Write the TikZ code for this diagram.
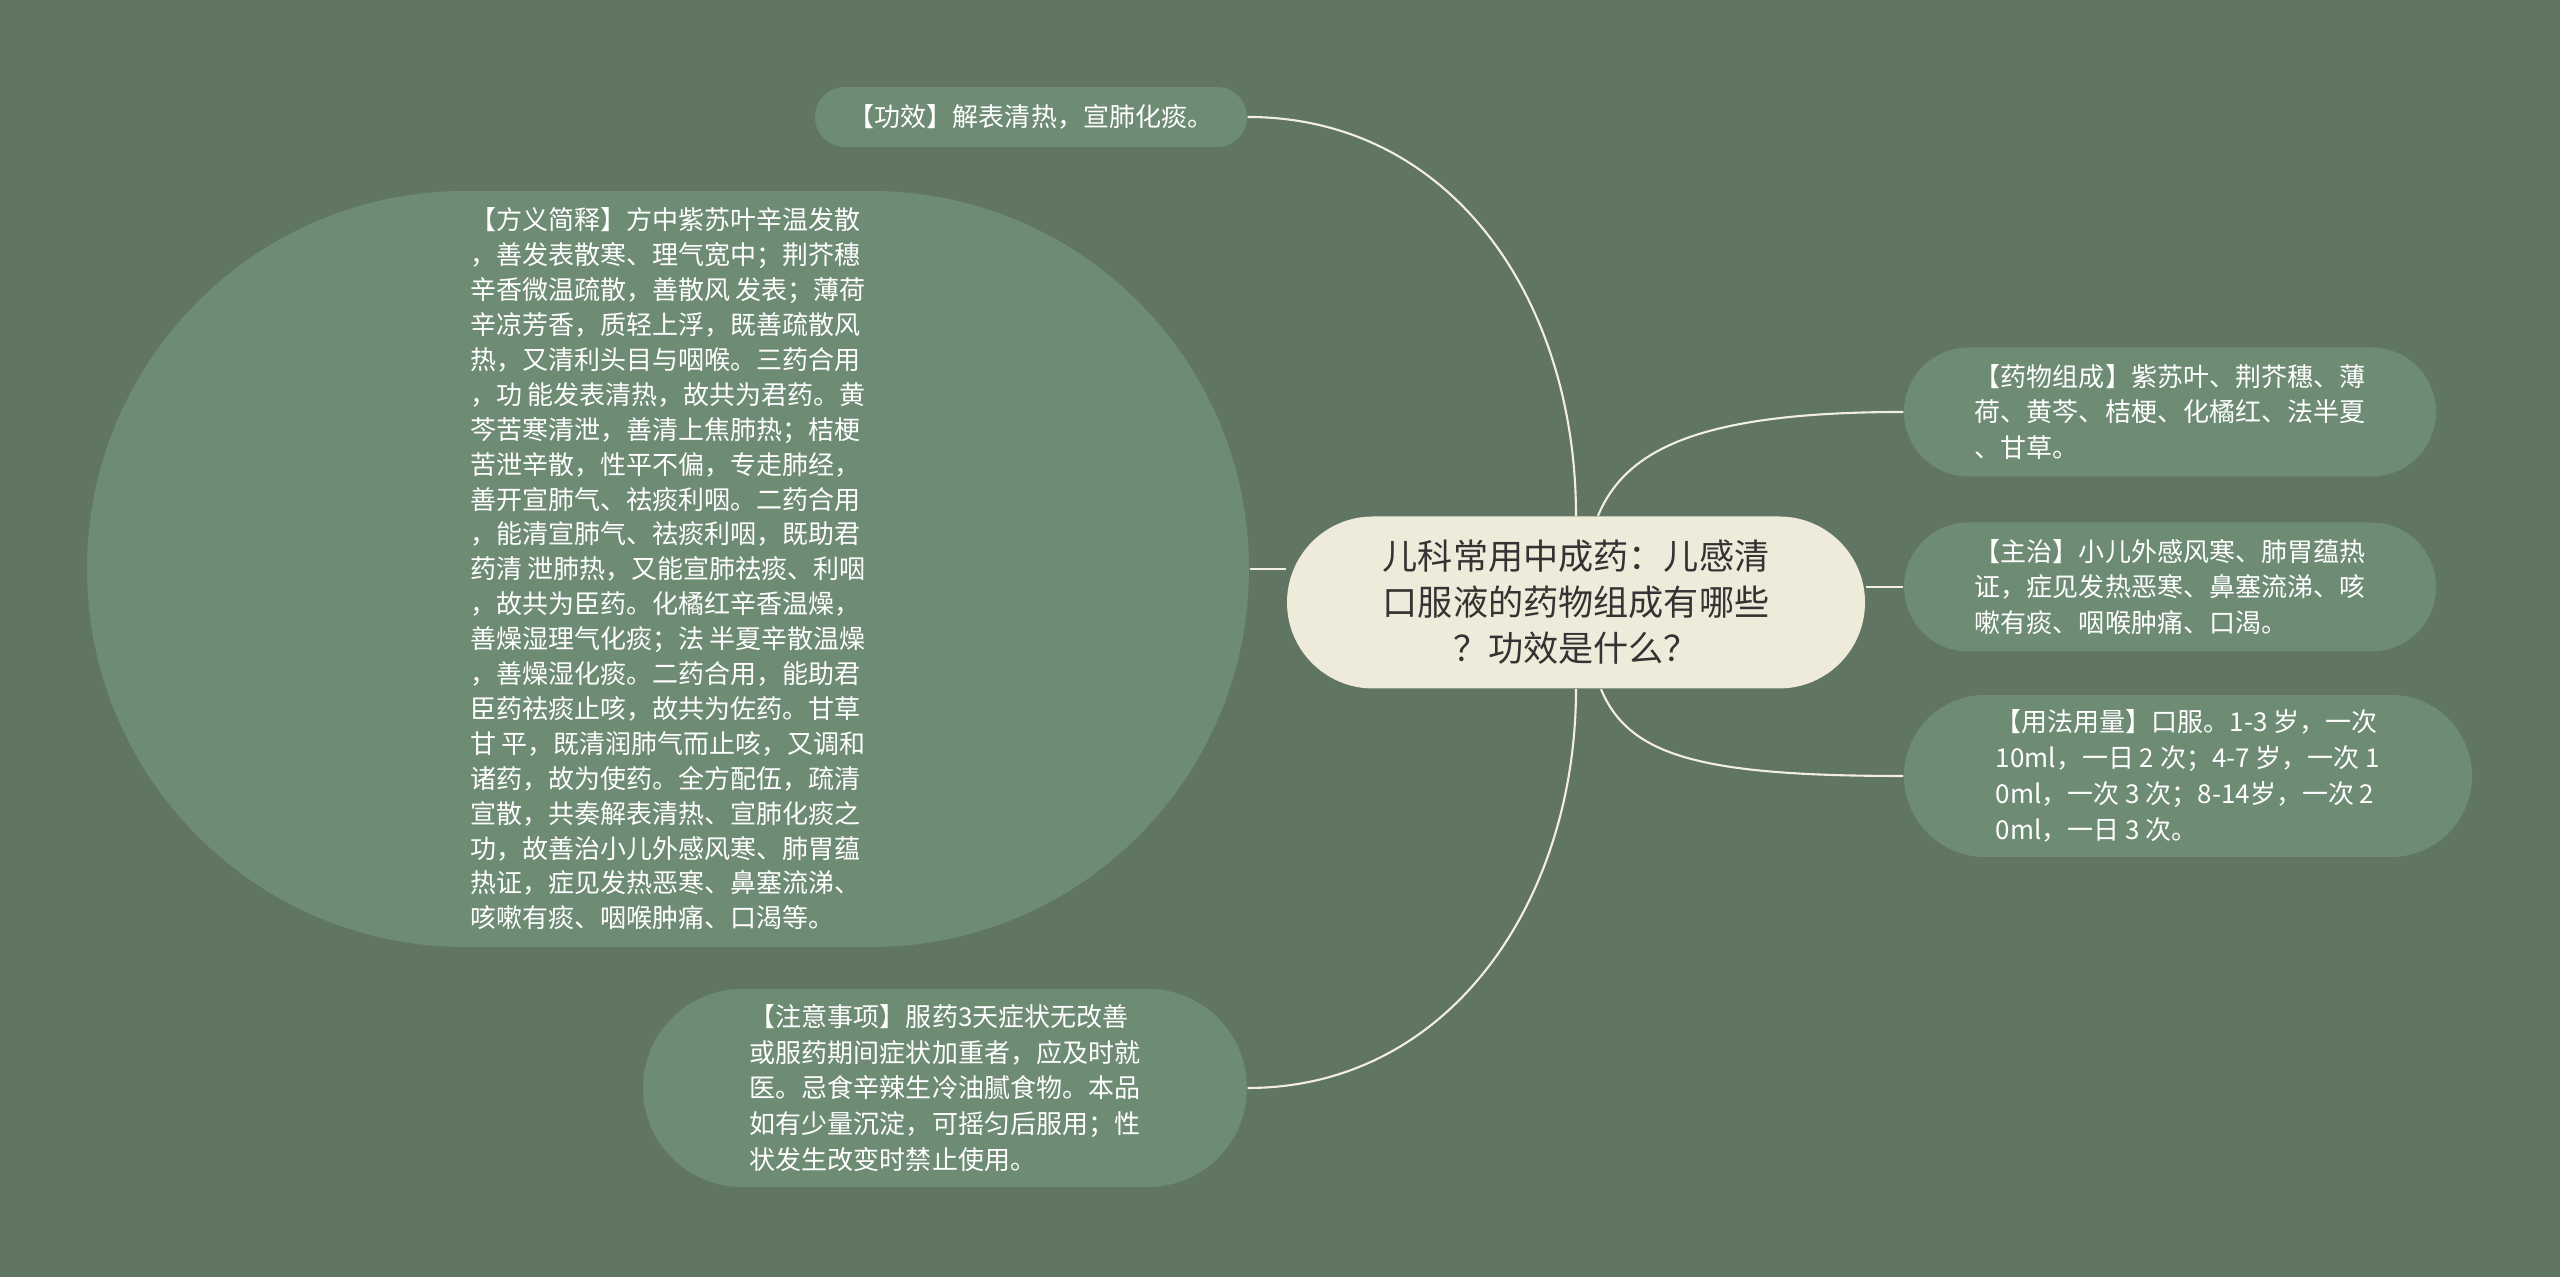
\documentclass[tikz,border=0pt]{standalone}
\usepackage{fontspec}
\setmainfont{Noto Sans CJK SC}
\usetikzlibrary{shapes.misc}
\definecolor{bggreen}{HTML}{617563}
\definecolor{leafgreen}{HTML}{6E8B74}
\definecolor{hubcream}{HTML}{EFEBDA}
\definecolor{wirecream}{HTML}{F3EFE0}
\begin{document}
\begin{tikzpicture}[
  leaf/.style={rounded rectangle, fill=leafgreen, text=white, inner sep=0pt, align=left, font=\fontsize{7.4}{10.2}\selectfont},
  hub/.style={rounded rectangle, fill=hubcream, text=black!80, inner sep=0pt, align=center, font=\fontsize{10}{13.1}\selectfont},
  wire/.style={draw=wirecream, line width=0.6pt}]

\fill[bggreen] (0,0) rectangle (25.6,12.77);

\node (root) at (15.76,6.745)[hub, minimum width=5.78cm, minimum height=1.72cm]{儿科常用中成药：儿感清\\口服液的药物组成有哪些\\？功效是什么？};

\node (gx) at (10.31,11.60)[leaf, minimum width=4.32cm, minimum height=0.6cm]{【功效】解表清热，宣肺化痰。};

\node (fy) at (6.68,7.08)[leaf, minimum width=11.62cm, minimum height=7.56cm, font=\fontsize{7.4}{9.93}\selectfont]{【方义简释】方中紫苏叶辛温发散\\，善发表散寒、理气宽中；荆芥穗\\辛香微温疏散，善散风 发表；薄荷\\辛凉芳香，质轻上浮，既善疏散风\\热，又清利头目与咽喉。三药合用\\，功 能发表清热，故共为君药。黄\\芩苦寒清泄，善清上焦肺热；桔梗\\苦泄辛散，性平不偏，专走肺经，\\善开宣肺气、祛痰利咽。二药合用\\，能清宣肺气、祛痰利咽，既助君\\药清 泄肺热，又能宣肺祛痰、利咽\\，故共为臣药。化橘红辛香温燥，\\善燥湿理气化痰；法 半夏辛散温燥\\，善燥湿化痰。二药合用，能助君\\臣药祛痰止咳，故共为佐药。甘草\\甘 平，既清润肺气而止咳，又调和\\诸药，故为使药。全方配伍，疏清\\宣散，共奏解表清热、宣肺化痰之\\功，故善治小儿外感风寒、肺胃蕴\\热证，症见发热恶寒、鼻塞流涕、\\咳嗽有痰、咽喉肿痛、口渴等。};

\node (zy) at (9.45,1.89)[leaf, minimum width=6.04cm, minimum height=1.98cm]{【注意事项】服药3天症状无改善\\或服药期间症状加重者，应及时就\\医。忌食辛辣生冷油腻食物。本品\\如有少量沉淀，可摇匀后服用；性\\状发生改变时禁止使用。};

\node (yw) at (21.70,8.65)[leaf, minimum width=5.32cm, minimum height=1.29cm]{【药物组成】紫苏叶、荆芥穗、薄\\荷、黄芩、桔梗、化橘红、法半夏\\、甘草。};

\node (zz) at (21.70,6.90)[leaf, minimum width=5.32cm, minimum height=1.29cm]{【主治】小儿外感风寒、肺胃蕴热\\证，症见发热恶寒、鼻塞流涕、咳\\嗽有痰、咽喉肿痛、口渴。};

\node (yf) at (21.88,5.01)[leaf, minimum width=5.68cm, minimum height=1.62cm]{【用法用量】口服。1-3 岁，一次\\10ml，一日 2 次；4-7 岁，一次 1\\0ml，一次 3 次；8-14岁，一次 2\\0ml，一日 3 次。};

\draw[wire] (gx.east) .. controls +(2.03,0) and +(0,2.17) .. (root.north);
\draw[wire] (fy.east) -- (fy.east -| root.west);
\draw[wire] (root.south) .. controls +(0,-2.1) and +(2.03,0) .. (zy.east);
\draw[wire] ([xshift=0.22cm]root.north) .. controls +(0.28,0.67) and +(-2.03,0) .. (yw.west);
\draw[wire] (zz.west -| root.east) -- (zz.west);
\draw[wire] ([xshift=0.25cm]root.south) .. controls +(0.28,-0.67) and +(-2.03,0) .. (yf.west);

\end{tikzpicture}
\end{document}
